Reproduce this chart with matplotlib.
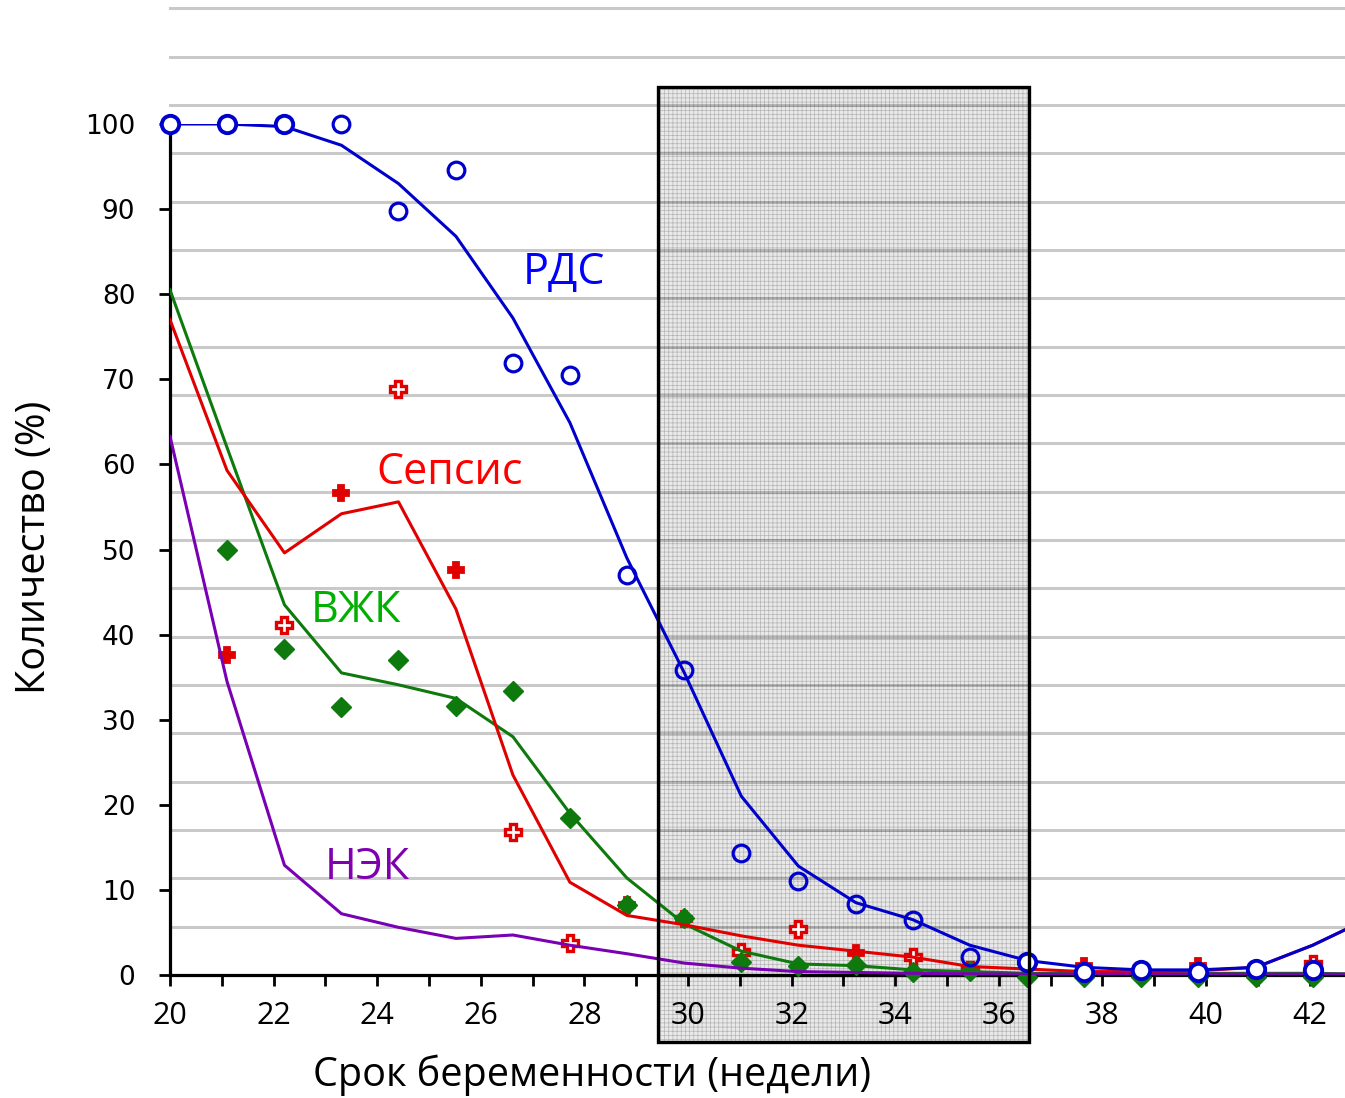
import numpy as np
import matplotlib
matplotlib.use("Agg")
import matplotlib.pyplot as plt
from matplotlib.patches import Rectangle

# ---------------- data ----------------
weeks = [20.00, 21.10, 22.21, 23.31, 24.41, 25.52, 26.62, 27.72, 28.82, 29.93, 31.03,
         32.13, 33.24, 34.34, 35.44, 36.55, 37.65, 38.75, 39.85, 40.96, 42.06, 43.16]

# trend lines (values at each week above)
rds_line = [100, 100, 99.7, 97.5, 93.0, 86.8, 77.2, 64.9, 49.0, 35.5, 21.0,
            12.8, 8.5, 6.5, 3.5, 1.7, 0.9, 0.6, 0.6, 0.9, 3.5, 6.7]
sepsis_line = [77.0, 59.3, 49.6, 54.2, 55.6, 43.0, 23.5, 10.9, 7.0, 5.9, 4.6,
               3.5, 2.8, 2.1, 1.0, 0.7, 0.4, 0.4, 0.5, 0.9, 3.5, 6.7]
ivh_line = [80.5, 62.0, 43.5, 35.5, 34.1, 32.5, 28.0, 19.0, 11.4, 6.0, 2.8,
            1.3, 1.1, 0.6, 0.4, 0.2, 0.2, 0.2, 0.2, 0.2, 0.2, 0.1]
nec_line = [63.3, 34.5, 12.9, 7.2, 5.6, 4.3, 4.7, 3.5, 2.5, 1.4, 0.8,
            0.4, 0.3, 0.2, 0.15, 0.1, 0.1, 0.1, 0.1, 0.1, 0.1, 0.1]

# observed points (first 21 weeks)
rds_pts = [100, 100, 100, 100, 89.8, 94.6, 71.9, 70.5, 47.0, 35.8, 14.3,
           11.0, 8.4, 6.5, 2.1, 1.5, 0.3, 0.6, 0.3, 0.7, 0.6]
rds_filled = [1, 1, 1, 0, 0, 0, 0, 0, 0, 0, 0, 0, 0, 0, 0, 1, 1, 1, 1, 1, 1]
sepsis_pts = [np.nan, 37.6, 41.1, 56.6, 68.9, 47.6, 16.8, 3.8, 8.2, 6.6, 2.7,
              5.4, 2.6, 2.1, 0.6, np.nan, 1.0, np.nan, 1.0, np.nan, 1.3]
sepsis_filled = [0, 1, 0, 1, 0, 1, 0, 0, 1, 1, 0, 0, 1, 0, 0, 0, 1, 0, 1, 0, 0]
ivh_pts = [np.nan, 50.0, 38.3, 31.5, 37.0, 31.6, 33.4, 18.4, 8.2, 6.7, 1.5,
           1.1, 1.2, 0.4, 0.5, -0.2, -0.2, -0.2, -0.2, -0.2, -0.2]

x_ticks_major = list(range(20, 43, 2))
x_ticks_minor = list(range(21, 43, 2))
y_ticks = list(range(0, 101, 10))
grid_levels = [5.68 * k for k in range(1, 21)]
highlight = (29.42, 36.58)

labels = {"РДС": (27.6, 82.5, "#0000ff"),
          "Сепсис": (25.4, 59.0, "#ff0000"),
          "ВЖК": (23.6, 42.8, "#00b000"),
          "НЭК": (23.8, 12.6, "#8000b0")}

C_RDS = "#0000cc"
C_SEP = "#e00000"
C_IVH = "#0e7a0e"
C_NEC = "#7a00b4"

# ---------------- figure ----------------
plt.rcParams["hatch.linewidth"] = 0.5
fig = plt.figure(figsize=(13.45, 10.98), dpi=100)
ax = fig.add_axes([170 / 1345, 123 / 1098, 1175 / 1345, 851 / 1098])
ax.set_xlim(20, 20 + 1175 / 51.8)
ax.set_ylim(0, 100)
ax.patch.set_alpha(0)

# gridlines (extend above axes)
for g in grid_levels:
    ax.axhline(g, color="black", alpha=0.21, lw=2.2, zorder=1.2, clip_on=False)

# highlighted week range
x0, x1 = highlight
ax.add_patch(Rectangle((x0, -7.9), x1 - x0, 104.3 + 7.9, facecolor=(0.86, 0.86, 0.86, 0.6),
                       edgecolor="#b4b4b4", lw=0, hatch="++++", zorder=1.0, clip_on=False))
ax.add_patch(Rectangle((x0, -7.9), x1 - x0, 104.3 + 7.9, fill=False,
                       edgecolor="black", lw=2.4, zorder=3.9, clip_on=False))

w = np.array(weeks)
wp = w[:21]

# green markers (below lines)
ax.plot(wp, ivh_pts, ls="none", marker="D", ms=10, color=C_IVH, mec=C_IVH, zorder=2.6, clip_on=False)

# lines
ax.plot(w, ivh_line, color=C_IVH, lw=2.2, zorder=2.8)
ax.plot(w, nec_line, color=C_NEC, lw=2.2, zorder=2.9)
ax.plot(w, sepsis_line, color=C_SEP, lw=2.2, zorder=2.85)
ax.plot(w, rds_line, color=C_RDS, lw=2.2, zorder=3.0)

# sepsis markers
sp = np.array(sepsis_pts, dtype=float)
sf = np.array(sepsis_filled, dtype=bool)
ax.plot(wp[sf], sp[sf], ls="none", marker="P", ms=12, mfc=C_SEP, mec=C_SEP, mew=1.3, zorder=2.55)
ax.plot(wp[~sf], sp[~sf], ls="none", marker="P", ms=12, mfc="white", mec=C_SEP, mew=2.4, zorder=2.55)

# RDS markers
rp = np.array(rds_pts, dtype=float)
rf = np.array(rds_filled, dtype=bool)
ax.plot(wp[rf], rp[rf], ls="none", marker="o", ms=12.5, mfc="white", mec=C_RDS, mew=2.8, zorder=3.5, clip_on=False)
ax.plot(wp[~rf], rp[~rf], ls="none", marker="o", ms=12, mfc="none", mec=C_RDS, mew=2.3, zorder=3.5, clip_on=False)

# series labels
for txt, (lx, ly, col) in labels.items():
    ax.text(lx, ly, txt, color=col, fontsize=31, family="Open Sans", ha="center", va="center", zorder=4)

# axes styling
for s in ("top", "right"):
    ax.spines[s].set_visible(False)
for s in ("left", "bottom"):
    ax.spines[s].set_linewidth(2.3)
    ax.spines[s].set_zorder(2.5)

ax.set_xticks(x_ticks_major)
ax.set_xticks(x_ticks_minor, minor=True)
ax.tick_params(axis="x", which="both", direction="out", length=8, width=2, pad=11, labelsize=22)
for lab in ax.get_xticklabels():
    lab.set_family("Open Sans")
ax.set_yticks(y_ticks)
ax.tick_params(axis="y", which="major", direction="out", length=8, width=2, pad=17, labelsize=19)
for lab in ax.get_yticklabels():
    lab.set_family("DejaVu Sans")

ax.set_xlabel("Срок беременности (недели)", fontsize=28.5, family="Open Sans")
ax.xaxis.set_label_coords((592 - 170) / 1175, (975 - 1075) / 851)
ax.xaxis.label.set_va("center")
ax.set_ylabel("Количество (%)", fontsize=28.5, family="Open Sans")
ax.yaxis.set_label_coords((35 - 170) / 1175, 0.502)
ax.yaxis.label.set_va("center")

fig.savefig("out.png", dpi=100)
